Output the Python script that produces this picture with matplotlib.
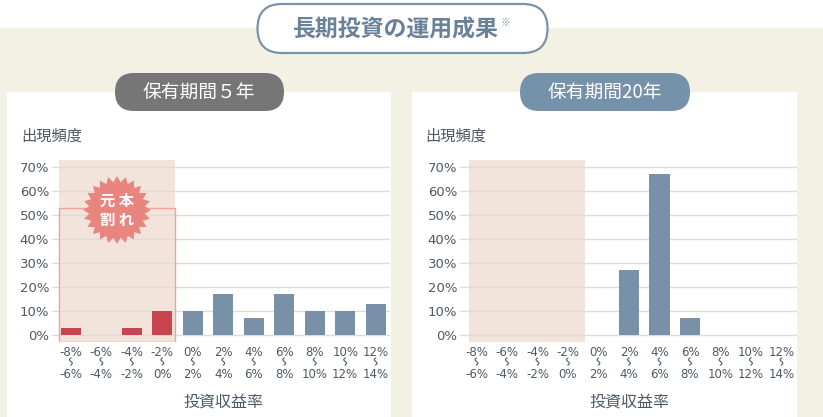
import numpy as np
import matplotlib
matplotlib.use('Agg')
import matplotlib.pyplot as plt
from matplotlib.patches import FancyBboxPatch, Rectangle, Polygon
from matplotlib.transforms import blended_transform_factory

plt.rcParams['font.family'] = ['Noto Sans CJK JP', 'DejaVu Sans']

W, H = 823, 417

# data
edges = ['-8%', '-6%', '-4%', '-2%', '0%', '2%', '4%', '6%', '8%', '10%', '12%', '14%']
freq_5y = [3, 0, 3, 10, 10, 17, 7, 17, 10, 10, 13]
freq_20y = [0, 0, 0, 0, 0, 27, 67, 7, 0, 0, 0]
n_loss = 4  # bins below 0%
yticks = [0, 10, 20, 30, 40, 50, 60, 70]

BEIGE = '#f3f0e4'
SLATE = '#7890a8'
RED = '#c8454f'
SHADE = '#f2e4da'
STAR = '#e8857f'
TXT = '#4d5965'

fig = plt.figure(figsize=(W / 100, H / 100), dpi=100)

# background layer in pixel coords (origin top-left)
bg = fig.add_axes([0, 0, 1, 1], zorder=0)
bg.set_xlim(0, W)
bg.set_ylim(H, 0)
bg.axis('off')
bg.add_patch(Rectangle((0, 28), W, H, color=BEIGE, lw=0))
bg.add_patch(Rectangle((7, 92), 384, 340, color='white', lw=0))
bg.add_patch(Rectangle((412, 92), 385, 340, color='white', lw=0))

fg = fig.add_axes([0, 0, 1, 1], zorder=5)
fg.set_xlim(0, W)
fg.set_ylim(H, 0)
fg.axis('off')
fg.patch.set_alpha(0)


def pill(ax, x0, y0, x1, y1, face, edge=None, lw=0):
    r = (y1 - y0) / 2
    ax.add_patch(FancyBboxPatch((x0 + r, y0), x1 - x0 - 2 * r, y1 - y0,
                                boxstyle='round,pad=0,rounding_size=%f' % r,
                                mutation_aspect=1, facecolor=face,
                                edgecolor=edge if edge else face, lw=lw))


pill(fg, 233, 4, 572, 53, 'white', '#7a93ab', 1.6)
fg.text(396, 30, '長期投資の運用成果', ha='center', va='center',
        fontsize=16.5, fontweight='bold', color='#6a819a')
fg.text(501, 23, '※', ha='left', va='center', fontsize=7, color='#8a9cb0')

pill(fg, 96, 73, 303, 111, '#767676')
fg.text(199, 92, '保有期間５年', ha='center', va='center', fontsize=13.5,
        color='white')
pill(fg, 501, 73, 709, 111, '#7691aa')
fg.text(605, 92, '保有期間20年', ha='center', va='center', fontsize=13.5,
        color='white')

for x in (21, 425):
    fg.text(x, 136, '出現頻度', ha='left', va='center', fontsize=11, color=TXT)
fg.text(223, 402, '投資収益率', ha='center', va='center', fontsize=11.5, color=TXT)
fg.text(629, 402, '投資収益率', ha='center', va='center', fontsize=11.5, color=TXT)

# little vertical wave drawn between the two bounds of each bin
wt = np.linspace(0, 1, 30)


def chart(px0, px1, xlim, span, values, loss_red):
    top, bot = 160, 342
    ax = fig.add_axes([px0 / W, (H - bot) / H, (px1 - px0) / W, (bot - top) / H],
                      zorder=2)
    ax.patch.set_alpha(0)
    x = np.arange(len(values))
    colors = [RED if (loss_red and i < n_loss) else SLATE for i in x]
    ax.axvspan(span[0], span[1], color=SHADE, lw=0, zorder=0)
    ax.bar(x, values, width=0.66, color=colors, lw=0, zorder=3)
    ax.set_xlim(*xlim)
    ax.set_ylim(-3, 73)
    ax.set_yticks(yticks)
    ax.set_yticklabels(['%d%%' % v for v in yticks], fontsize=9.5, color=TXT,
                       family='DejaVu Sans')
    ax.set_xticks(x)
    ax.set_xticklabels(edges[:-1], fontsize=8.5, color=TXT,
                       family=['DejaVu Sans'])
    ax.tick_params(length=0, pad=2)
    ax.tick_params(axis='x', pad=3)
    ax.grid(axis='y', color='#dcdcdc', lw=1, zorder=1)
    for s in ax.spines.values():
        s.set_visible(False)
    tr = blended_transform_factory(ax.transData, fig.transFigure)
    unit = (px1 - px0) / (xlim[1] - xlim[0])
    for i in x:
        ax.plot(i - 1.4 / unit * np.sin(2 * np.pi * wt),
                (H - (358 + 7 * wt)) / H, transform=tr, color=TXT, lw=0.8,
                clip_on=False)
        ax.text(i, (H - 374) / H, edges[i + 1], transform=tr, ha='center',
                va='center', fontsize=8.5, color=TXT, family='DejaVu Sans',
                clip_on=False)
    return ax


ax1 = chart(52, 390, (-0.62, 10.47), (-0.40, 3.40), freq_5y, True)
ax1.add_patch(Rectangle((-0.40, -3), 3.80, 56, fill=False, edgecolor='#f2a29c',
                        lw=1, zorder=2))
ax2 = chart(460, 797, (-0.54, 10.51), (-0.24, 3.55), freq_20y, False)

# starburst badge
n = 24
ang = np.linspace(0, 2 * np.pi, 2 * n, endpoint=False) - np.pi / 2
rad = np.where(np.arange(2 * n) % 2 == 0, 34, 28)
cx, cy = 117, 210
pts = np.column_stack([cx + rad * np.cos(ang), cy + rad * np.sin(ang)])
fg.add_patch(Polygon(pts, closed=True, color=STAR, lw=0))
fg.text(cx, cy, '元 本\n割 れ', ha='center', va='center', fontsize=11,
        fontweight='bold', color='white', linespacing=1.25)

fig.savefig('out.png', dpi=100)
